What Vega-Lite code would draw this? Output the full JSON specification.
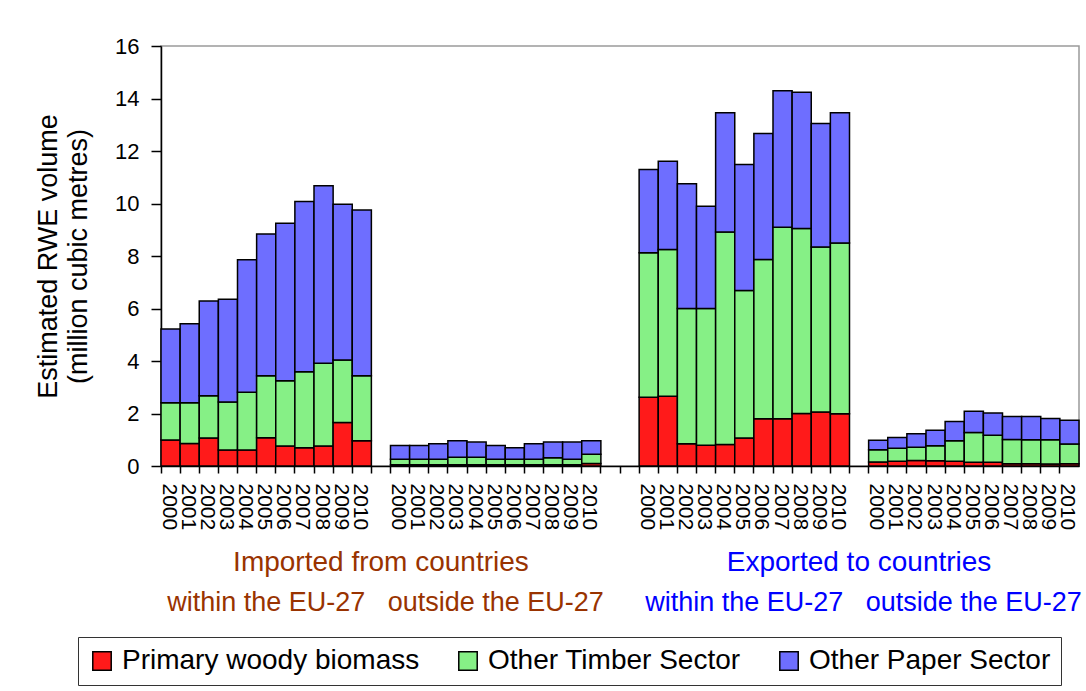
{
  "$schema": "https://vega.github.io/schema/vega-lite/v6.json",
  "width": 918,
  "height": 420,
  "autosize": {"type": "none"},
  "padding": {"left": 161, "top": 46, "right": 7, "bottom": 225},
  "background": "white",
  "config": {
    "font": "Liberation Sans",
    "view": {"stroke": "#9a9a9a", "strokeWidth": 1.5}
  },
  "datasets": {
    "bars": [
      {"slot": "A2000", "Primary woody biomass": 0.99, "Other Timber Sector": 1.42, "Other Paper Sector": 2.81},
      {"slot": "A2001", "Primary woody biomass": 0.86, "Other Timber Sector": 1.55, "Other Paper Sector": 3.01},
      {"slot": "A2002", "Primary woody biomass": 1.07, "Other Timber Sector": 1.61, "Other Paper Sector": 3.61},
      {"slot": "A2003", "Primary woody biomass": 0.61, "Other Timber Sector": 1.83, "Other Paper Sector": 3.91},
      {"slot": "A2004", "Primary woody biomass": 0.61, "Other Timber Sector": 2.20, "Other Paper Sector": 5.05},
      {"slot": "A2005", "Primary woody biomass": 1.08, "Other Timber Sector": 2.36, "Other Paper Sector": 5.40},
      {"slot": "A2006", "Primary woody biomass": 0.76, "Other Timber Sector": 2.49, "Other Paper Sector": 6.00},
      {"slot": "A2007", "Primary woody biomass": 0.70, "Other Timber Sector": 2.89, "Other Paper Sector": 6.49},
      {"slot": "A2008", "Primary woody biomass": 0.76, "Other Timber Sector": 3.15, "Other Paper Sector": 6.77},
      {"slot": "A2009", "Primary woody biomass": 1.66, "Other Timber Sector": 2.38, "Other Paper Sector": 5.93},
      {"slot": "A2010", "Primary woody biomass": 0.96, "Other Timber Sector": 2.48, "Other Paper Sector": 6.31},
      {"slot": "B2000", "Primary woody biomass": 0.05, "Other Timber Sector": 0.21, "Other Paper Sector": 0.52},
      {"slot": "B2001", "Primary woody biomass": 0.05, "Other Timber Sector": 0.21, "Other Paper Sector": 0.52},
      {"slot": "B2002", "Primary woody biomass": 0.05, "Other Timber Sector": 0.21, "Other Paper Sector": 0.59},
      {"slot": "B2003", "Primary woody biomass": 0.05, "Other Timber Sector": 0.28, "Other Paper Sector": 0.63},
      {"slot": "B2004", "Primary woody biomass": 0.05, "Other Timber Sector": 0.28, "Other Paper Sector": 0.58},
      {"slot": "B2005", "Primary woody biomass": 0.05, "Other Timber Sector": 0.21, "Other Paper Sector": 0.52},
      {"slot": "B2006", "Primary woody biomass": 0.05, "Other Timber Sector": 0.21, "Other Paper Sector": 0.44},
      {"slot": "B2007", "Primary woody biomass": 0.05, "Other Timber Sector": 0.21, "Other Paper Sector": 0.59},
      {"slot": "B2008", "Primary woody biomass": 0.05, "Other Timber Sector": 0.26, "Other Paper Sector": 0.60},
      {"slot": "B2009", "Primary woody biomass": 0.05, "Other Timber Sector": 0.21, "Other Paper Sector": 0.65},
      {"slot": "B2010", "Primary woody biomass": 0.10, "Other Timber Sector": 0.35, "Other Paper Sector": 0.51},
      {"slot": "C2000", "Primary woody biomass": 2.62, "Other Timber Sector": 5.50, "Other Paper Sector": 3.18},
      {"slot": "C2001", "Primary woody biomass": 2.66, "Other Timber Sector": 5.59, "Other Paper Sector": 3.36},
      {"slot": "C2002", "Primary woody biomass": 0.85, "Other Timber Sector": 5.15, "Other Paper Sector": 4.75},
      {"slot": "C2003", "Primary woody biomass": 0.79, "Other Timber Sector": 5.21, "Other Paper Sector": 3.90},
      {"slot": "C2004", "Primary woody biomass": 0.82, "Other Timber Sector": 8.09, "Other Paper Sector": 4.55},
      {"slot": "C2005", "Primary woody biomass": 1.07, "Other Timber Sector": 5.62, "Other Paper Sector": 4.80},
      {"slot": "C2006", "Primary woody biomass": 1.80, "Other Timber Sector": 6.07, "Other Paper Sector": 4.80},
      {"slot": "C2007", "Primary woody biomass": 1.80, "Other Timber Sector": 7.30, "Other Paper Sector": 5.20},
      {"slot": "C2008", "Primary woody biomass": 2.00, "Other Timber Sector": 7.05, "Other Paper Sector": 5.19},
      {"slot": "C2009", "Primary woody biomass": 2.06, "Other Timber Sector": 6.28, "Other Paper Sector": 4.71},
      {"slot": "C2010", "Primary woody biomass": 1.99, "Other Timber Sector": 6.51, "Other Paper Sector": 4.96},
      {"slot": "D2000", "Primary woody biomass": 0.15, "Other Timber Sector": 0.47, "Other Paper Sector": 0.36},
      {"slot": "D2001", "Primary woody biomass": 0.18, "Other Timber Sector": 0.50, "Other Paper Sector": 0.41},
      {"slot": "D2002", "Primary woody biomass": 0.21, "Other Timber Sector": 0.50, "Other Paper Sector": 0.52},
      {"slot": "D2003", "Primary woody biomass": 0.20, "Other Timber Sector": 0.57, "Other Paper Sector": 0.59},
      {"slot": "D2004", "Primary woody biomass": 0.18, "Other Timber Sector": 0.78, "Other Paper Sector": 0.74},
      {"slot": "D2005", "Primary woody biomass": 0.14, "Other Timber Sector": 1.14, "Other Paper Sector": 0.81},
      {"slot": "D2006", "Primary woody biomass": 0.14, "Other Timber Sector": 1.03, "Other Paper Sector": 0.85},
      {"slot": "D2007", "Primary woody biomass": 0.09, "Other Timber Sector": 0.92, "Other Paper Sector": 0.88},
      {"slot": "D2008", "Primary woody biomass": 0.09, "Other Timber Sector": 0.91, "Other Paper Sector": 0.89},
      {"slot": "D2009", "Primary woody biomass": 0.08, "Other Timber Sector": 0.92, "Other Paper Sector": 0.81},
      {"slot": "D2010", "Primary woody biomass": 0.09, "Other Timber Sector": 0.75, "Other Paper Sector": 0.90}
    ],
    "grouplabels": [
      {"slot": "gap1", "text": "Imported from countries", "line": 1, "side": "imp"},
      {"slot": "gap4", "text": "Exported to countries", "line": 1, "side": "exp"},
      {"slot": "A2005", "text": "within the EU-27", "line": 2, "side": "imp"},
      {"slot": "B2005", "text": "outside the EU-27", "line": 2, "side": "imp"},
      {"slot": "C2005", "text": "within the EU-27", "line": 2, "side": "exp"},
      {"slot": "D2005", "text": "outside the EU-27", "line": 2, "side": "exp"}
    ]
  },
  "encoding": {
    "x": {
      "field": "slot",
      "type": "nominal",
      "scale": {
        "domain": ["A2000","A2001","A2002","A2003","A2004","A2005","A2006","A2007","A2008","A2009","A2010","gap1",
                   "B2000","B2001","B2002","B2003","B2004","B2005","B2006","B2007","B2008","B2009","B2010","gap2","gap3",
                   "C2000","C2001","C2002","C2003","C2004","C2005","C2006","C2007","C2008","C2009","C2010","gap4",
                   "D2000","D2001","D2002","D2003","D2004","D2005","D2006","D2007","D2008","D2009","D2010"],
        "paddingInner": 0,
        "paddingOuter": 0
      },
      "axis": {
        "title": null,
        "labelExpr": "indexof(datum.value, 'gap') === 0 ? '' : slice(datum.value, 1)",
        "labelAngle": 90,
        "labelFontSize": 21,
        "labelColor": "black",
        "labelOverlap": false,
        "labelPadding": 10,
        "bandPosition": 0,
        "labelOffset": -2,
        "tickSize": 7,
        "tickColor": "black",
        "tickWidth": 1.5,
        "domainColor": "black",
        "domainWidth": 1.5,
        "grid": false
      }
    }
  },
  "layer": [
    {
      "data": {"name": "bars"},
      "transform": [
        {"fold": ["Primary woody biomass", "Other Timber Sector", "Other Paper Sector"], "as": ["sector", "value"]}
      ],
      "mark": {"type": "bar", "stroke": "black", "strokeWidth": 1.5},
      "encoding": {
        "y": {
          "field": "value",
          "type": "quantitative",
          "stack": "zero",
          "scale": {"domain": [0, 16], "nice": false},
          "axis": {
            "title": ["Estimated RWE volume", "(million cubic metres)"],
            "titleFontSize": 27,
            "titleFontWeight": "normal",
            "titleColor": "black",
            "titleLineHeight": 30,
            "titlePadding": 22,
            "values": [0, 2, 4, 6, 8, 10, 12, 14, 16],
            "labelFontSize": 22,
            "labelColor": "black",
            "labelPadding": 12,
            "tickSize": 10,
            "tickColor": "black",
            "tickWidth": 1.5,
            "domainColor": "black",
            "domainWidth": 1.5,
            "grid": false
          }
        },
        "color": {
          "field": "sector",
          "type": "nominal",
          "scale": {
            "domain": ["Primary woody biomass", "Other Timber Sector", "Other Paper Sector"],
            "range": ["#ff1a1a", "#86f086", "#6e6eff"]
          },
          "legend": {
            "title": null,
            "orient": "none",
            "legendX": -83,
            "legendY": 591,
            "direction": "horizontal",
            "symbolType": "square",
            "symbolSize": 340,
            "symbolStrokeColor": "black",
            "symbolStrokeWidth": 1.5,
            "labelFontSize": 28,
            "labelColor": "black",
            "labelOffset": 6,
            "labelLimit": 400,
            "columnPadding": 34,
            "padding": 10,
            "strokeColor": "#333333"
          }
        },
        "order": {"field": "sector", "sort": "descending"}
      }
    },
    {
      "data": {"name": "grouplabels"},
      "transform": [{"filter": "datum.line === 1"}],
      "mark": {"type": "text", "dy": 307, "fontSize": 28, "align": "center", "baseline": "middle"},
      "encoding": {
        "text": {"field": "text"},
        "color": {"condition": {"test": "datum.side === 'imp'", "value": "#993300"}, "value": "#0000ff"}
      }
    },
    {
      "data": {"name": "grouplabels"},
      "transform": [{"filter": "datum.line === 2"}],
      "mark": {"type": "text", "dy": 347, "fontSize": 27, "align": "center", "baseline": "middle"},
      "encoding": {
        "text": {"field": "text"},
        "color": {"condition": {"test": "datum.side === 'imp'", "value": "#993300"}, "value": "#0000ff"}
      }
    }
  ]
}
